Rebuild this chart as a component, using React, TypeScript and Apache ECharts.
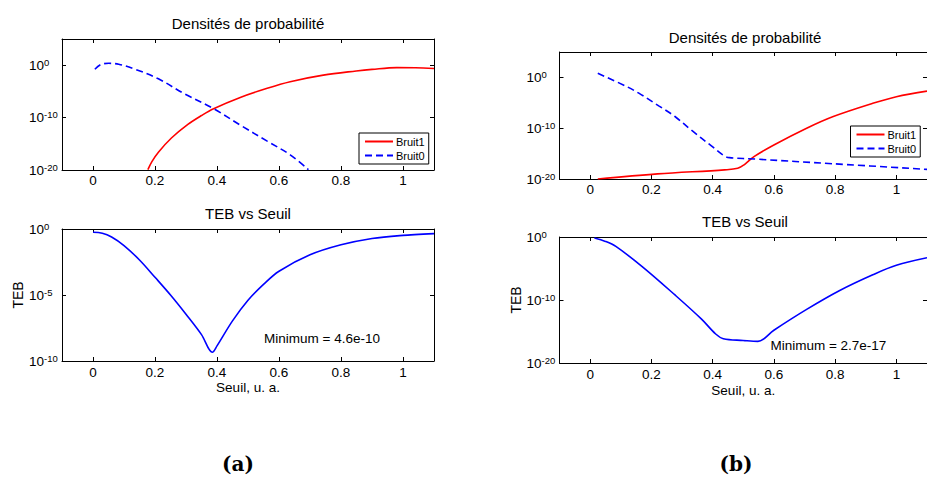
import React, { useEffect, useRef } from 'react';
import * as echarts from 'echarts';

// ---------- tick labels ----------
const xTicks = [0, 0.2, 0.4, 0.6, 0.8, 1];
const densityExpTicks = [-20, -10, 0];
const tebExpTicksA = [-10, -5, 0];
const tebExpTicksB = [-20, -10, 0];
const legendNames = ['Bruit1', 'Bruit0'];

// ---------- panel (a): densities ----------
const aBruit1X = [0.177, 0.19, 0.211, 0.253, 0.306, 0.35, 0.389, 0.477, 0.562, 0.636, 0.743, 0.849, 0.9, 0.98, 1.04, 1.1];
const aBruit1Y = [1.15e-20, 4.0e-19, 2.5e-17, 1.26e-14, 5.0e-12, 2.5e-10, 5.0e-9, 7.9e-7, 4.0e-5, 7.1e-4, 1.26e-2, 7.9e-2, 0.16, 0.35, 0.32, 0.23];
const aBruit0X = [0.006, 0.025, 0.051, 0.083, 0.136, 0.211, 0.296, 0.389, 0.477, 0.562, 0.636, 0.695];
const aBruit0Y = [0.17, 1.3, 2.3, 1.55, 0.17, 2.5e-3, 3.2e-6, 5.0e-9, 3.2e-12, 3.2e-15, 7.9e-18, 1.15e-20];

// ---------- panel (a): TEB ----------
const aTebX = [0, 0.03, 0.06, 0.1, 0.15, 0.2, 0.25, 0.3, 0.35, 0.385, 0.4, 0.45, 0.5, 0.55, 0.6, 0.7, 0.8, 0.9, 1.0, 1.1];
const aTebY = [0.56, 0.48, 0.25, 5.6e-2, 4.5e-3, 2.2e-4, 1e-5, 3.5e-7, 1e-8, 4.6e-10, 1.4e-9, 1.1e-7, 4.0e-6, 6.3e-5, 6.3e-4, 1.1e-2, 6.3e-2, 0.19, 0.33, 0.45];
const aMinValue = 4.6e-10;
const aNoteX = 0.55;
const aNoteY = 5.2e-9;

// ---------- panel (b): densities ----------
const bBruit1X = [0.025, 0.22, 0.439, 0.482, 0.503, 0.535, 0.6, 0.707, 0.794, 0.923, 1.0, 1.1];
const bBruit1Y = [1e-20, 1e-19, 6.3e-19, 1.26e-18, 6.3e-18, 2.5e-16, 5.0e-14, 1e-10, 2.0e-8, 7.9e-6, 1.6e-4, 2.0e-3];
const bBruit0X = [0.025, 0.116, 0.159, 0.224, 0.277, 0.331, 0.396, 0.439, 0.455, 0.546, 0.794, 1.1];
const bBruit0Y = [6.3, 2.0e-2, 7.9e-4, 2.5e-6, 2.0e-8, 4.0e-11, 3.2e-14, 3.2e-16, 1.6e-16, 7.9e-17, 1e-17, 7.9e-19];

// ---------- panel (b): TEB ----------
const bTebX = [0.014, 0.05, 0.084, 0.17, 0.277, 0.363, 0.41, 0.435, 0.5, 0.548, 0.6, 0.707, 0.815, 0.923, 1.0, 1.1];
const bTebY = [0.69, 0.2, 3.2e-2, 2.0e-5, 6.3e-10, 1e-13, 4.0e-16, 7.1e-17, 3.8e-17, 2.7e-17, 1.6e-15, 3.2e-12, 3.2e-9, 1e-6, 3.2e-5, 5.0e-4];
const bMinValue = 2.7e-17;
const bNoteX = 0.587;
const bNoteY = 6.3e-18;

const FONT = '"Liberation Sans", Arial, Helvetica, sans-serif';
const RED = '#ff0000';
const BLUE = '#0000ff';
const SUP_SIZE = 9.5;
const SUP_SLOT = 15;

const toXY = (xs: number[], ys: number[]) => xs.map((x, i) => [x, Math.log10(ys[i])]);

// approximate Arial advance widths, used to left-align the exponents in a fixed slot
const supWidth = (s: string) => s.split('').reduce((w, c) => w + (c === '-' ? 0.333 : 0.556) * SUP_SIZE, 0);

const grids = [
  { left: 62, top: 39, width: 372, height: 131 },
  { left: 62, top: 229, width: 372, height: 132 },
  { left: 559.5, top: 52, width: 371.5, height: 127 },
  { left: 559.5, top: 237, width: 371.5, height: 126 },
];

function makeXAxes(gi: number, labelMargin: number, name: string, nameGap: number) {
  const base: any = {
    type: 'value',
    gridIndex: gi,
    min: -0.1,
    max: 1.1,
    splitLine: { show: false },
    axisLine: { show: true, onZero: false, lineStyle: { color: '#000', width: 1 } },
    axisTick: { show: true, inside: true, length: 4, customValues: xTicks, lineStyle: { color: '#000' } },
  };
  return [
    {
      ...base,
      position: 'bottom',
      axisLabel: {
        show: true,
        customValues: xTicks,
        margin: labelMargin,
        color: '#000',
        fontSize: 13.5,
        fontFamily: FONT,
        formatter: (v: number) => String(v),
      },
      name,
      nameLocation: 'middle',
      nameGap,
      nameTextStyle: { color: '#000', fontSize: 13.5, fontFamily: FONT },
    },
    { ...base, position: 'top', axisLabel: { show: false } },
  ];
}

function makeYAxes(gi: number, min: number, max: number, ticks: number[], name: string) {
  const base: any = {
    type: 'value',
    gridIndex: gi,
    min,
    max,
    splitLine: { show: false },
    axisLine: { show: true, onZero: false, lineStyle: { color: '#000', width: 1 } },
    axisTick: { show: true, inside: true, length: 4, customValues: ticks, lineStyle: { color: '#000' } },
  };
  const rich: any = {
    b: { fontSize: 13.5, lineHeight: 16, verticalAlign: 'middle', color: '#000', fontFamily: FONT },
  };
  ticks.forEach((t, i) => {
    const pad = Math.max(0, SUP_SLOT - supWidth(String(t)));
    rich['s' + i] = {
      fontSize: SUP_SIZE,
      lineHeight: 10,
      verticalAlign: 'top',
      padding: [0, pad, 10, 0],
      color: '#000',
      fontFamily: FONT,
    };
  });
  return [
    {
      ...base,
      position: 'left',
      axisLabel: {
        show: true,
        customValues: ticks,
        margin: 3,
        color: '#000',
        fontFamily: FONT,
        formatter: (v: number) => {
          const i = ticks.indexOf(v);
          return `{b|10}{s${i < 0 ? 0 : i}|${v}}`;
        },
        rich,
      },
      name,
      nameLocation: 'middle',
      nameGap: 37,
      nameTextStyle: { color: '#000', fontSize: 14, fontFamily: FONT },
    },
    { ...base, position: 'right', axisLabel: { show: false } },
  ];
}

function noteMark(x: number, y: number, value: number) {
  return {
    symbol: 'circle',
    symbolSize: 1,
    silent: true,
    itemStyle: { color: 'rgba(0,0,0,0)' },
    label: {
      show: true,
      position: 'right',
      distance: 0,
      color: '#000',
      fontSize: 13.5,
      fontFamily: FONT,
      formatter: `Minimum = ${value.toExponential(1)}`,
    },
    data: [{ coord: [x, Math.log10(y)] }],
  };
}

function lineSeries(name: string, xi: number, yi: number, data: number[][], color: string, dashed: boolean, extra: any = {}) {
  return {
    type: 'line',
    name,
    xAxisIndex: xi,
    yAxisIndex: yi,
    data,
    symbol: 'none',
    showSymbol: false,
    smooth: 0.35,
    clip: true,
    lineStyle: { color, width: 1.6, type: dashed ? [7, 4] : 'solid' },
    itemStyle: { color },
    ...extra,
  };
}

function legendAt(left: number, top: number) {
  return {
    data: legendNames,
    orient: 'vertical',
    left,
    top,
    selectedMode: false,
    backgroundColor: '#fff',
    borderColor: '#000',
    borderWidth: 1,
    borderRadius: 0,
    padding: [3, 4, 3, 5],
    itemGap: 3,
    itemWidth: 28,
    itemHeight: 12,
    itemStyle: { opacity: 0, borderWidth: 0 },
    textStyle: { color: '#000', fontSize: 11, fontFamily: FONT, padding: [0, 0, 0, -2] },
  };
}

function titleText(text: string, x: number, y: number) {
  return {
    type: 'text',
    x,
    y,
    silent: true,
    style: { text, fill: '#000', fontSize: 15, fontFamily: FONT, align: 'center', verticalAlign: 'middle' },
  };
}

function panelLetter(text: string, x: number) {
  return {
    type: 'text',
    x,
    y: 464,
    silent: true,
    style: { text, fill: '#000', fontSize: 20, fontWeight: 'bold', fontFamily: '"DejaVu Serif", serif', align: 'center', verticalAlign: 'middle' },
  };
}

export default function App() {
  const ref = useRef<HTMLDivElement>(null);
  useEffect(() => {
    if (!ref.current) return;
    const chart = echarts.init(ref.current, null, { renderer: 'svg' });
    const option: any = {
      animation: false,
      backgroundColor: '#fff',
      grid: grids,
      xAxis: [
        ...makeXAxes(0, 3, '', 0),
        ...makeXAxes(1, 4, 'Seuil, u. a.', 19),
        ...makeXAxes(2, 3, '', 0),
        ...makeXAxes(3, 4, 'Seuil, u. a.', 20),
      ],
      yAxis: [
        ...makeYAxes(0, -20, 5, densityExpTicks, ''),
        ...makeYAxes(1, -10, 0, tebExpTicksA, 'TEB'),
        ...makeYAxes(2, -20, 5, densityExpTicks, ''),
        ...makeYAxes(3, -20, 0, tebExpTicksB, 'TEB'),
      ],
      legend: [legendAt(359, 133), legendAt(850.5, 126)],
      series: [
        lineSeries('Bruit1', 0, 0, toXY(aBruit1X, aBruit1Y), RED, false),
        lineSeries('Bruit0', 0, 0, toXY(aBruit0X, aBruit0Y), BLUE, true),
        lineSeries('TEB (a)', 2, 2, toXY(aTebX, aTebY), BLUE, false, { markPoint: noteMark(aNoteX, aNoteY, aMinValue) }),
        lineSeries('Bruit1', 4, 4, toXY(bBruit1X, bBruit1Y), RED, false),
        lineSeries('Bruit0', 4, 4, toXY(bBruit0X, bBruit0Y), BLUE, true),
        lineSeries('TEB (b)', 6, 6, toXY(bTebX, bTebY), BLUE, false, { markPoint: noteMark(bNoteX, bNoteY, bMinValue) }),
      ],
      graphic: [
        titleText('Densités de probabilité', 248, 23),
        titleText('TEB vs Seuil', 248, 213),
        titleText('Densités de probabilité', 745, 37),
        titleText('TEB vs Seuil', 745, 221),
        panelLetter('(a)', 238),
        panelLetter('(b)', 736),
      ],
    };
    chart.setOption(option);
    return () => chart.dispose();
  }, []);
  return <div ref={ref} style={{ position: 'absolute', left: 0, top: 0, width: 927, height: 477 }} />;
}
